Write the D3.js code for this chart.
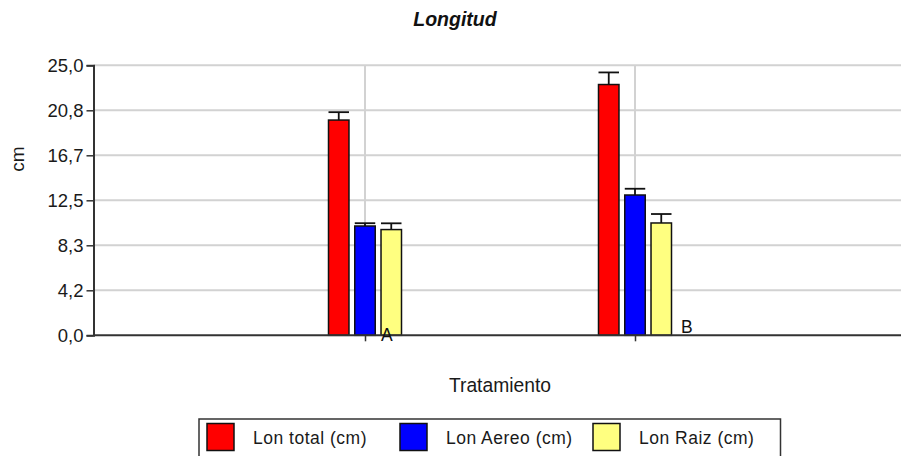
<!DOCTYPE html>
<html>
<head>
<meta charset="utf-8">
<script src="https://cdn.jsdelivr.net/npm/d3@7"></script>
<style>
  html, body { margin: 0; padding: 0; background: #fff; }
  svg { display: block; font-family: "Liberation Sans", Arial, sans-serif; }
</style>
</head>
<body>
<svg id="chart" width="901" height="456"></svg>
<script>
// ---- data ----
const categories = ["A", "B"];
const seriesNames = ["Lon total (cm)", "Lon Aereo (cm)", "Lon Raiz (cm)"];
const seriesColors = ["#ff0000", "#0000ff", "#ffff80"];
const lonTotal = [19.93, 23.22];
const lonAereo = [10.12, 12.99];
const lonRaiz = [9.79, 10.4];
const errTotal = [0.73, 1.12];
const errAereo = [0.26, 0.58];
const errRaiz = [0.58, 0.83];
const groupLetters = ["A", "B"];
const yTickValues = [0, 25 / 6, 50 / 6, 12.5, 100 / 6, 125 / 6, 25];
const yTickLabels = ["0,0", "4,2", "8,3", "12,5", "16,7", "20,8", "25,0"];
const title = "Longitud";
const xTitle = "Tratamiento";
const yTitle = "cm";

const values = [lonTotal, lonAereo, lonRaiz];
const errors = [errTotal, errAereo, errRaiz];

// ---- layout ----
const svg = d3.select("#chart");
const plotLeft = 93.5, plotRight = 901, plotTop = 65.3, plotBottom = 335.3;
const font = '"Liberation Sans", Arial, sans-serif';

const y = d3.scaleLinear().domain([0, 25]).range([plotBottom, plotTop]);
const x = d3.scalePoint().domain(categories).range([plotLeft + 1.5, plotLeft + 811.5]).padding(1);
const x1 = d3.scaleBand().domain(seriesNames).range([-36.5, 36.5]).paddingInner(0.22).paddingOuter(0);

// gridlines
const grid = svg.append("g");
grid.selectAll("line.h").data(yTickValues.slice(1)).join("line")
  .attr("x1", plotLeft).attr("x2", plotRight)
  .attr("y1", d => y(d)).attr("y2", d => y(d))
  .attr("stroke", "#d2d2d2").attr("stroke-width", 2);
grid.selectAll("line.v").data(categories).join("line")
  .attr("x1", d => x(d)).attr("x2", d => x(d))
  .attr("y1", plotTop).attr("y2", plotBottom)
  .attr("stroke", "#d2d2d2").attr("stroke-width", 2);

// bars
const flat = [];
categories.forEach((c, ci) => seriesNames.forEach((s, si) => {
  flat.push({ c, s, si, v: values[si][ci], e: errors[si][ci] });
}));

const bars = svg.append("g");
bars.selectAll("rect").data(flat).join("rect")
  .attr("x", d => x(d.c) + x1(d.s))
  .attr("y", d => y(d.v))
  .attr("width", x1.bandwidth())
  .attr("height", d => y(0) - y(d.v))
  .attr("fill", d => seriesColors[d.si])
  .attr("stroke", "#111").attr("stroke-width", 1.5);

// error bars
const eb = svg.append("g").attr("stroke", "#111").attr("stroke-width", 1.8);
eb.selectAll("line.stem").data(flat).join("line")
  .attr("x1", d => x(d.c) + x1(d.s) + x1.bandwidth() / 2)
  .attr("x2", d => x(d.c) + x1(d.s) + x1.bandwidth() / 2)
  .attr("y1", d => y(d.v)).attr("y2", d => y(d.v + d.e));
eb.selectAll("line.cap").data(flat).join("line")
  .attr("x1", d => x(d.c) + x1(d.s))
  .attr("x2", d => x(d.c) + x1(d.s) + x1.bandwidth())
  .attr("y1", d => y(d.v + d.e)).attr("y2", d => y(d.v + d.e));

// y axis
const yAxis = d3.axisLeft(y).tickValues(yTickValues)
  .tickFormat((d, i) => yTickLabels[i]).tickSize(7).tickPadding(3);
const gy = svg.append("g").attr("transform", `translate(${plotLeft},0)`).call(yAxis);
gy.select(".domain").attr("stroke", "#333").attr("stroke-width", 2);
gy.selectAll(".tick line").attr("stroke", "#333").attr("stroke-width", 1.5);
gy.selectAll(".tick text").attr("font-family", font).attr("font-size", 18.5).attr("fill", "#1a1a1a");

// x axis (baseline and ticks, no labels)
const xAxis = d3.axisBottom(x).tickSize(6).tickFormat("");
const gx = svg.append("g").attr("transform", `translate(0,${plotBottom})`).call(xAxis);
gx.select(".domain").attr("d", `M${plotLeft},0H${plotRight}`).attr("stroke", "#333").attr("stroke-width", 2);
gx.selectAll(".tick line").attr("stroke", "#333").attr("stroke-width", 1.5);

// group letters
const letterOffsets = [[16, 340.5], [46, 332.5]];
svg.append("g").selectAll("text").data(groupLetters).join("text")
  .attr("x", (d, i) => x(categories[i]) + letterOffsets[i][0])
  .attr("y", (d, i) => letterOffsets[i][1])
  .attr("font-family", font).attr("font-size", 17.5).attr("fill", "#111")
  .text(d => d);

// titles
svg.append("text").attr("x", 455).attr("y", 26)
  .attr("text-anchor", "middle").attr("font-family", font)
  .attr("font-size", 19.5).attr("font-weight", "bold").attr("font-style", "italic")
  .attr("fill", "#111").text(title);
svg.append("text").attr("x", 500).attr("y", 391.5)
  .attr("text-anchor", "middle").attr("font-family", font)
  .attr("font-size", 19.3).attr("fill", "#1a1a1a").text(xTitle);
svg.append("text").attr("transform", "translate(23.5,159) rotate(-90)")
  .attr("text-anchor", "middle").attr("font-family", font)
  .attr("font-size", 19).attr("fill", "#1a1a1a").text(yTitle);

// legend
const lg = svg.append("g");
lg.append("rect").attr("x", 199).attr("y", 419).attr("width", 581.5).attr("height", 50)
  .attr("fill", "#fff").attr("stroke", "#333").attr("stroke-width", 1.5);
const items = lg.selectAll("g.item").data(seriesNames).join("g")
  .attr("transform", (d, i) => `translate(${207 + i * 193},0)`);
items.append("rect").attr("x", 0).attr("y", 423.5).attr("width", 27).attr("height", 27)
  .attr("fill", (d, i) => seriesColors[i]).attr("stroke", "#111").attr("stroke-width", 1.5);
items.append("text").attr("x", 46).attr("y", 444)
  .attr("font-family", font).attr("font-size", 17.5).attr("letter-spacing", 0.5).attr("fill", "#1a1a1a")
  .text(d => d);
</script>
</body>
</html>
